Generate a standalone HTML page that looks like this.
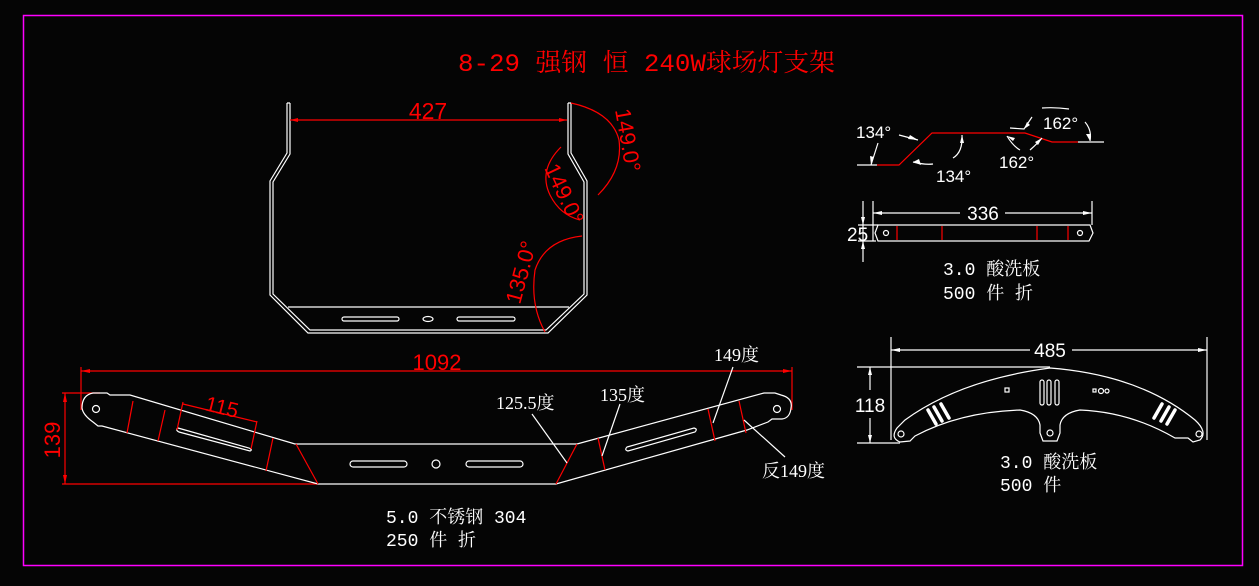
<!DOCTYPE html>
<html><head><meta charset="utf-8"><style>
html,body{margin:0;padding:0;background:#050505;}
svg{display:block}
.w{stroke:#fff;fill:none;stroke-width:1.2}
.r{stroke:#f00;fill:none;stroke-width:1.2}
.rt{fill:#f00;font-family:"Liberation Sans",sans-serif}
.wt{fill:#fff;font-family:"Liberation Serif","Noto Serif CJK SC",serif;font-size:18px}
.wm{fill:#fff;font-family:"Liberation Mono","Noto Serif CJK SC",serif;font-size:18px}
.ws{fill:#fff;font-family:"Liberation Sans","Noto Sans CJK SC",sans-serif}
</style></head><body>
<svg width="1259" height="586" viewBox="0 0 1259 586" xmlns="http://www.w3.org/2000/svg">
<rect x="0" y="0" width="1259" height="586" fill="#050505"/>
<rect x="23.5" y="15.5" width="1219" height="550" fill="none" stroke="#f0f" stroke-width="1.5"/>
<text x="458" y="71" textLength="377" lengthAdjust="spacingAndGlyphs" fill="#f00" font-family="Liberation Mono,'Noto Serif CJK SC',serif" font-size="25">8-29 强钢 恒 240W球场灯支架</text>

<!-- top U part -->
<path class="w" d="M287,103 V153 L270,181 V295 L308,333 H548 L587,295 V181 L571,153 V103"/>
<path class="w" d="M290,103 V154 L273,182 V294 L310,330 H546 L584,294 V182 L568,154 V103"/>
<path class="w" d="M287,103 H290 M568,103 H571"/>
<line class="w" x1="288" y1="307" x2="569" y2="307"/>
<rect class="w" x="342" y="317" width="57" height="4" rx="2"/>
<rect class="w" x="457" y="317" width="58" height="4" rx="2"/>
<ellipse class="w" cx="428" cy="319" rx="5" ry="2.5"/>
<line class="r" x1="290" y1="120" x2="567" y2="120"/>
<path fill="#f00" d="M290,120 l8,-2 v4z M567,120 l-8,-2 v4z"/>
<text class="rt" x="428" y="119" font-size="23" text-anchor="middle">427</text>
<path class="r" d="M571,103 Q612,112 619,140 Q623,170 598,195"/>
<path class="r" d="M561,147 Q538,170 550,195 Q560,215 580,220"/>
<path class="r" d="M582,236 Q545,240 535,270 Q530,305 545,332"/>
<text class="rt" font-size="22" transform="translate(615,110) rotate(80)">149.0°</text>
<text class="rt" font-size="22" transform="translate(544,168) rotate(65)">149.0°</text>
<text class="rt" font-size="22" transform="translate(520,305) rotate(-75)">135.0°</text>

<!-- bottom long part -->
<line class="r" x1="81" y1="371" x2="792" y2="371"/>
<line class="r" x1="81" y1="367" x2="81" y2="410"/>
<line class="r" x1="792" y1="367" x2="792" y2="410"/>
<path fill="#f00" d="M81,371 l9,-2 v4z M792,371 l-9,-2 v4z"/>
<text class="rt" x="437" y="370" font-size="22" text-anchor="middle">1092</text>
<line class="r" x1="62" y1="393" x2="100" y2="393"/>
<line class="r" x1="62" y1="484" x2="318" y2="484"/>
<line class="r" x1="65" y1="393" x2="65" y2="484"/>
<path fill="#f00" d="M65,393 l-2,9 h4z M65,484 l-2,-9 h4z"/>
<text class="rt" font-size="22" text-anchor="middle" transform="translate(60,440) rotate(-90)">139</text>

<path class="w" d="M93,393 H107 L110,395 H130 L295,444 H577 L764,393 H775 L781,395 Q793,398 791,408 Q790,418 782,419 H772 L768,422 L747,430 L556,484 H318 L102,426 H98 L93,422 Q83,415 82,408 Q82,395 93,393Z"/>
<circle class="w" cx="96" cy="409" r="3.5"/>
<circle class="w" cx="777" cy="409" r="3.5"/>
<rect class="w" x="350" y="461" width="57" height="6" rx="3"/>
<rect class="w" x="466" y="461" width="57" height="6" rx="3"/>
<circle class="w" cx="436" cy="464" r="4"/>
<path class="w" d="M178,428 L249,448 Q253,450 250,451 L179,432 Q175,430 178,428Z"/>
<path class="w" d="M627,447 L694,428 Q698,429 695,432 L628,451 Q624,450 627,447Z"/>
<g class="r">
<line x1="133" y1="401" x2="127" y2="433"/>
<line x1="165" y1="410" x2="158" y2="441"/>
<line x1="273" y1="438" x2="266" y2="471"/>
<line x1="296" y1="444" x2="318" y2="484"/>
<line x1="183" y1="402" x2="177" y2="430"/>
<line x1="257" y1="421" x2="251" y2="449"/>
<line x1="183" y1="404" x2="257" y2="422"/>
<line x1="577" y1="444" x2="556" y2="484"/>
<line x1="598" y1="438" x2="605" y2="470"/>
<line x1="708" y1="409" x2="715" y2="441"/>
<line x1="739" y1="401" x2="746" y2="433"/>
</g>
<text class="rt" font-size="21" transform="translate(204,410) rotate(14)">115</text>
<g class="w" stroke-width="0.9">
<line x1="532" y1="414" x2="567" y2="463"/>
<line x1="620" y1="404" x2="602" y2="456"/>
<line x1="733" y1="367" x2="713" y2="423"/>
<line x1="744" y1="420" x2="785" y2="457"/>
</g>
<text class="wt" x="496" y="409">125.5度</text>
<text class="wt" x="600" y="401">135度</text>
<text class="wt" x="714" y="361">149度</text>
<text class="wt" x="762" y="477">反149度</text>
<text class="wm" x="386" y="523">5.0 不锈钢 304</text>
<text class="wm" x="386" y="546">250 件 折</text>

<!-- top right profile -->
<line class="w" x1="857" y1="165" x2="877" y2="165"/>
<path class="r" d="M877,165 H899 L932,133 H1025 L1052,142 H1078"/>
<line class="w" x1="1078" y1="142" x2="1104" y2="142"/>
<g class="w" stroke-width="0.9">
<path d="M899,135 L918,140 M878,143 L871,165"/>
<path d="M913,162 Q925,165 933,164 M953,158 Q963,152 962,135"/>
<path d="M1007,136 Q1013,146 1020,150 M1030,150 Q1038,143 1042,138"/>
<path d="M1010,128 L1024,129 L1032,117 M1042,108 Q1055,107 1069,109 M1085,122 Q1092,130 1090,141"/>
</g>
<g fill="#fff" stroke="none">
<path d="M918,140 l-8,-5 l-2,4z M871,165 l-1,-9 l4,1z M913,162 l8,3 l-2,-6z M962,135 l2,8 h-4z M1007,136 l6,5 l2,-3z M1042,138 l-4,7 l-3,-3z M1024,129 l3,-7 l3,3z M1090,141 l-4,-7 h5z"/>
</g>
<text class="ws" x="856" y="138" font-size="17">134°</text>
<text class="ws" x="936" y="182" font-size="17">134°</text>
<text class="ws" x="999" y="168" font-size="17">162°</text>
<text class="ws" x="1043" y="129" font-size="17">162°</text>

<!-- strip -->
<path class="w" d="M878,225 H1090 L1093,233 L1089,241 H878 L875,233 Z"/>
<circle class="w" cx="886" cy="233" r="2.5"/>
<circle class="w" cx="1080" cy="233" r="2.5"/>
<g class="r"><line x1="897" y1="226" x2="897" y2="240"/><line x1="942" y1="226" x2="942" y2="240"/><line x1="1037" y1="226" x2="1037" y2="240"/><line x1="1068" y1="226" x2="1068" y2="240"/></g>
<g class="w" stroke-width="0.9">
<line x1="873" y1="201" x2="873" y2="241"/><line x1="1092" y1="201" x2="1092" y2="225"/>
<line x1="873" y1="213" x2="960" y2="213"/><line x1="1005" y1="213" x2="1092" y2="213"/>
<line x1="863" y1="201" x2="863" y2="262"/><line x1="858" y1="225" x2="878" y2="225"/><line x1="858" y1="241" x2="876" y2="241"/>
</g>
<path fill="#fff" d="M873,213 l9,-2 v4z M1092,213 l-9,-2 v4z M863,225 l-2,-8 h4z M863,241 l-2,8 h4z"/>
<text class="ws" x="983" y="220" font-size="19" text-anchor="middle">336</text>
<text class="ws" x="847" y="241" font-size="19">25</text>
<text class="wm" x="943" y="275">3.0 酸洗板</text>
<text class="wm" x="943" y="299">500 件 折</text>

<!-- bottom right arc part -->
<g class="w" stroke-width="0.9">
<line x1="891" y1="337" x2="891" y2="440"/><line x1="1207" y1="337" x2="1207" y2="440"/>
<line x1="891" y1="350" x2="1030" y2="350"/><line x1="1072" y1="350" x2="1207" y2="350"/>
<line x1="857" y1="367" x2="1050" y2="367"/><line x1="857" y1="443" x2="900" y2="443"/>
<line x1="870" y1="367" x2="870" y2="390"/><line x1="870" y1="418" x2="870" y2="443"/>
</g>
<path fill="#fff" d="M891,350 l9,-2 v4z M1207,350 l-9,-2 v4z M870,367 l-2,8 h4z M870,443 l-2,-8 h4z"/>
<text class="ws" x="1050" y="357" font-size="19" text-anchor="middle">485</text>
<text class="ws" x="870" y="412" font-size="19" text-anchor="middle">118</text>
<path class="w" d="M905,420 Q960,380 1050,368 Q1140,375 1195,420 Q1208,432 1200,440 L1193,442 L1188,438 L1175,438 Q1130,412 1080,410 Q1062,413 1060,425 V433 L1057,441 H1043 L1040,433 V425 Q1038,413 1020,410 Q960,412 915,436 L910,441 L900,442 Q890,438 897,428 Z"/>
<circle class="w" cx="901" cy="434" r="3"/>
<circle class="w" cx="1199" cy="434" r="3"/>
<circle class="w" cx="1050" cy="433" r="3"/>
<g class="w" stroke-width="0.9">
<rect x="1040" y="380" width="4" height="25" rx="2"/><rect x="1047" y="380" width="4" height="25" rx="2"/><rect x="1055" y="380" width="4" height="25" rx="2"/>
<path d="M928,410 l8,14 M934,407 l8,14 M941,404 l8,14" stroke-width="3.5" stroke-linecap="round"/>
<path d="M1162,404 l-8,14 M1169,407 l-8,14 M1175,410 l-8,14" stroke-width="3.5" stroke-linecap="round"/>
<rect x="1005" y="388" width="4" height="4"/><rect x="1093" y="389" width="3" height="3"/><circle cx="1101" cy="391" r="2.5"/><circle cx="1107" cy="391" r="2"/>
</g>
<text class="wm" x="1000" y="468">3.0 酸洗板</text>
<text class="wm" x="1000" y="491">500 件</text>
</svg>
</body></html>
